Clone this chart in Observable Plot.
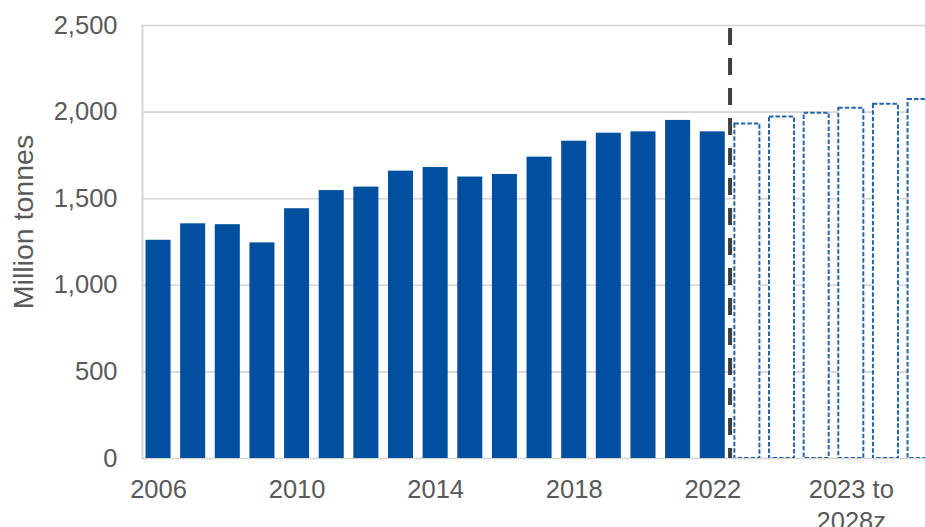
<!DOCTYPE html>
<html>
<head>
<meta charset="utf-8">
<script src="https://cdn.jsdelivr.net/npm/d3@7"></script>
<script src="https://cdn.jsdelivr.net/npm/@observablehq/plot@0.6"></script>
<style>
  html, body { margin: 0; padding: 0; background: #fff; overflow: hidden; }
  #chart svg { overflow: hidden; }
</style>
</head>
<body>
<div id="chart"></div>
<script>
// Actual data, 2006–2022 (million tonnes)
const actualYears = [2006, 2007, 2008, 2009, 2010, 2011, 2012, 2013, 2014, 2015, 2016, 2017, 2018, 2019, 2020, 2021, 2022];
const actualValues = [1260, 1355, 1350, 1245, 1442, 1547, 1567, 1659, 1680, 1625, 1640, 1740, 1832, 1878, 1886, 1952, 1886];
// Forecast, 2023–2028
const forecastYears = [2023, 2024, 2025, 2026, 2027, 2028];
const forecastValues = [1932, 1971, 1994, 2022, 2045, 2073];
// Axis ticks
const yTicks = [0, 500, 1000, 1500, 2000, 2500];
const xTickYears = [2006, 2010, 2014, 2018, 2022, 2026];
const xTickLabels = ["2006", "2010", "2014", "2018", "2022", "2023 to\n2028z"];
const forecastStartYear = 2023;
const yLabel = "Million tonnes";

const actual = actualYears.map((year, i) => ({year, value: actualValues[i]}));
const forecast = forecastYears.map((year, i) => ({year, value: forecastValues[i]}));
const labelOf = Object.fromEntries(xTickYears.map((y, i) => [y, xTickLabels[i]]));
const fmt = d3.format(",");

const textColor = "#595959";
const font = "'Liberation Sans', Arial, Helvetica, sans-serif";

const chart = Plot.plot({
  width: 925,
  height: 527,
  marginTop: 25,
  marginBottom: 69,
  marginLeft: 142,
  marginRight: 0,
  style: {fontFamily: font, overflow: "hidden", background: "#fff"},
  x: {domain: [2006.0375, 2028.642], label: null},
  y: {domain: [0, 2500], label: null},
  marks: [
    Plot.gridY(yTicks, {stroke: "#d4d4d4", strokeOpacity: 1, strokeWidth: 1.6}),
    Plot.frame({anchor: "left", stroke: "#d4d4d4", strokeWidth: 2}),
    Plot.rectY(actual, {x: "year", interval: 1, y: "value", fill: "#00509f", insetLeft: 4.8, insetRight: 4.8, clip: true}),
    Plot.rectY(forecast, {x: "year", interval: 1, y: "value", fill: "#fff", stroke: "#2563ad", strokeWidth: 2, strokeDasharray: "4.5,2", insetLeft: 4.8, insetRight: 4.8, clip: true}),
    Plot.ruleX([forecastStartYear], {stroke: "#3f3f3f", strokeWidth: 4, strokeDasharray: "17,13", strokeDashoffset: -3}),
    Plot.axisY(yTicks, {tickFormat: d => fmt(d), tickSize: 0, tickPadding: 25, fontSize: 25.5, fill: textColor, label: null}),
    Plot.axisX(xTickYears.map(y => y + 0.5), {tickFormat: d => labelOf[Math.floor(d)], tickSize: 0, tickPadding: 17, fontSize: 25.5, lineHeight: 1.26, fill: textColor, label: null}),
    Plot.text([yLabel], {frameAnchor: "left", textAnchor: "middle", rotate: -90, dx: -119, dy: -20, fontSize: 28.5, fill: textColor})
  ]
});
document.getElementById("chart").appendChild(chart);
</script>
</body>
</html>
